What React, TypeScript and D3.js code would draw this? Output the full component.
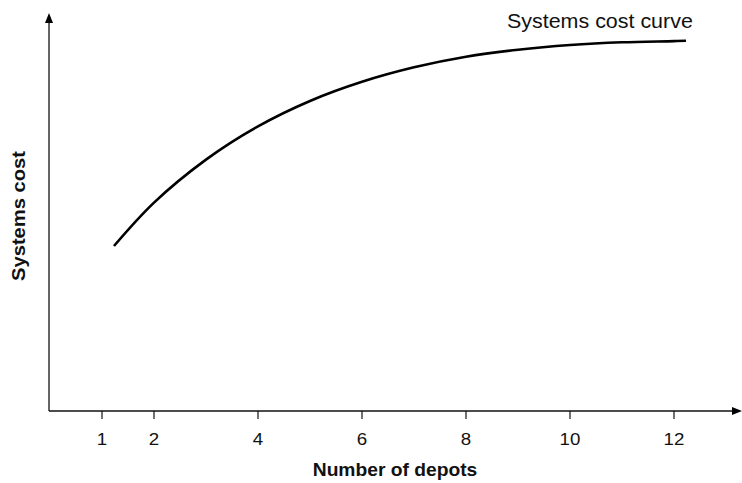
import React from "react";
import * as d3 from "d3";

const depots = [1.23, 2, 3, 4, 5, 6, 7, 8, 9, 10, 11, 12, 12.23];
const costs = [42.2, 53.3, 64.3, 72.8, 79.3, 84.2, 87.9, 90.6, 92.4, 93.6, 94.3, 94.6, 94.7];
const xTicks = [1, 2, 4, 6, 8, 10, 12];
const xTitle = "Number of depots";
const yTitle = "Systems cost";
const curveLabel = "Systems cost curve";

const W = 742;
const H = 483;
const originX = 49;
const originY = 411;
const font = "'Liberation Sans', Arial, Helvetica, sans-serif";

export default function App() {
  const x = d3.scaleLinear().domain([1, 12]).range([102, 674]);
  const y = d3.scaleLinear().domain([0, 100]).range([originY, 20]);
  const pts = depots.map((d, i) => [d, costs[i]] as [number, number]);
  const line = d3
    .line<[number, number]>()
    .x((d) => x(d[0]))
    .y((d) => y(d[1]))
    .curve(d3.curveCatmullRom.alpha(0.5));

  return (
    <svg
      width={W}
      height={H}
      style={{ position: "absolute", left: 0, top: 0, background: "#fff" }}
    >
      {/* axes */}
      <line x1={originX} y1={originY} x2={734} y2={originY} stroke="#111" strokeWidth={1.3} />
      <line x1={originX} y1={originY} x2={originX} y2={22} stroke="#111" strokeWidth={1.3} />
      <path d={`M${originX},13 L${originX - 4},23 L${originX + 4},23 Z`} fill="#000" />
      <path d={`M742,${originY} L732,${originY - 4} L732,${originY + 4} Z`} fill="#000" />

      {xTicks.map((t) => (
        <g key={t}>
          <line x1={x(t)} x2={x(t)} y1={originY} y2={originY + 8} stroke="#111" strokeWidth={1.2} />
          <text
            transform={`translate(${x(t)},445) scale(1.1,1)`}
            textAnchor="middle"
            fontFamily={font}
            fontSize={17}
            fill="#111"
          >
            {t}
          </text>
        </g>
      ))}

      <path d={line(pts) || ""} fill="none" stroke="#000" strokeWidth={2.6} />

      <text
        transform={`translate(507,28) scale(1.1,1)`}
        fontFamily={font}
        fontSize={19.5}
        fill="#111"
      >
        {curveLabel}
      </text>

      <text
        transform={`translate(395,476) scale(1.1,1)`}
        textAnchor="middle"
        fontFamily={font}
        fontSize={17.5}
        fontWeight="bold"
        fill="#111"
      >
        {xTitle}
      </text>

      <text
        transform={`translate(25,216) rotate(-90) scale(1.12,1)`}
        textAnchor="middle"
        fontFamily={font}
        fontSize={18}
        fontWeight="bold"
        fill="#111"
      >
        {yTitle}
      </text>
    </svg>
  );
}
